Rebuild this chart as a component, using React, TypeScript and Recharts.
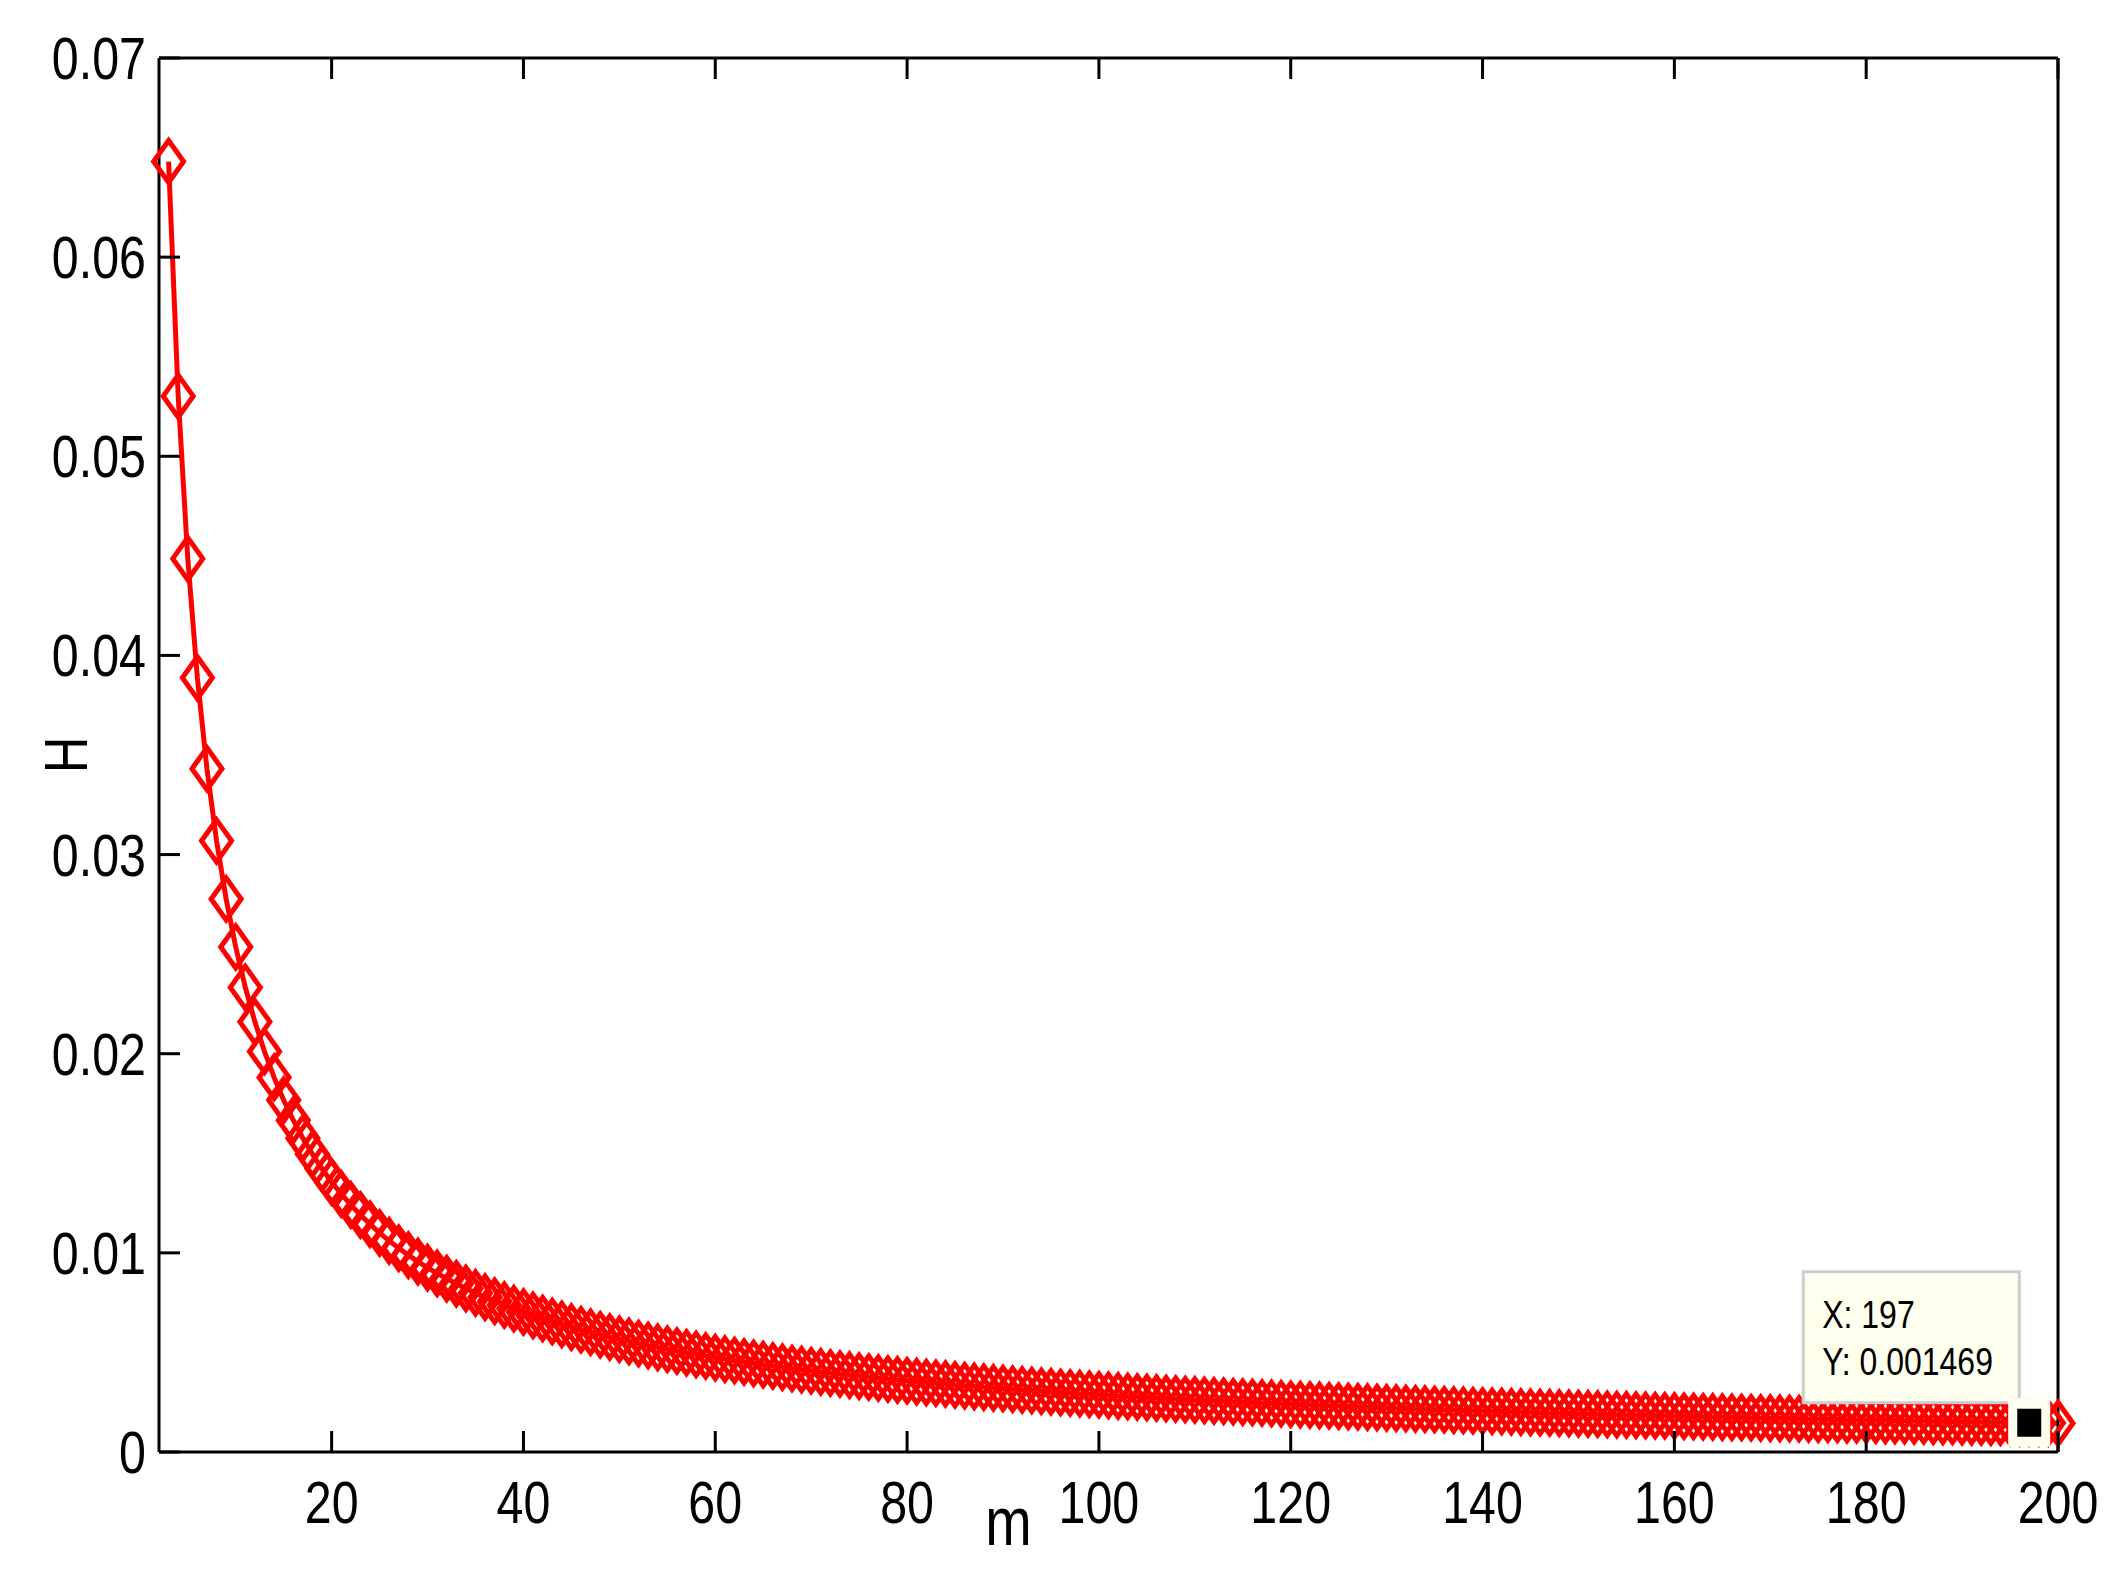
import React from 'react';
import { LineChart, Line, XAxis, YAxis, ReferenceDot, Label } from 'recharts';

// m values (x) and H values (y)
const mValues = [
  3, 4, 5, 6, 7, 8, 9, 10, 11, 12, 13, 14, 15, 16, 17, 18, 19, 20,
  21, 22, 23, 24, 25, 26, 27, 28, 29, 30, 31, 32, 33, 34, 35, 36, 37, 38, 39, 40,
  41, 42, 43, 44, 45, 46, 47, 48, 49, 50, 51, 52, 53, 54, 55, 56, 57, 58, 59, 60,
  61, 62, 63, 64, 65, 66, 67, 68, 69, 70, 71, 72, 73, 74, 75, 76, 77, 78, 79, 80,
  81, 82, 83, 84, 85, 86, 87, 88, 89, 90, 91, 92, 93, 94, 95, 96, 97, 98, 99, 100,
  101, 102, 103, 104, 105, 106, 107, 108, 109, 110, 111, 112, 113, 114, 115, 116, 117, 118, 119, 120,
  121, 122, 123, 124, 125, 126, 127, 128, 129, 130, 131, 132, 133, 134, 135, 136, 137, 138, 139, 140,
  141, 142, 143, 144, 145, 146, 147, 148, 149, 150, 151, 152, 153, 154, 155, 156, 157, 158, 159, 160,
  161, 162, 163, 164, 165, 166, 167, 168, 169, 170, 171, 172, 173, 174, 175, 176, 177, 178, 179, 180,
  181, 182, 183, 184, 185, 186, 187, 188, 189, 190, 191, 192, 193, 194, 195, 196, 197, 198, 199, 200,
];

const hValues = [
  0.0648, 0.05302, 0.04486, 0.03888, 0.03431, 0.03069, 0.02777, 0.02536, 0.02333, 0.0216,
  0.02011, 0.01881, 0.01767, 0.01666, 0.01576, 0.01495, 0.01422, 0.01356,
  0.01296, 0.01241, 0.0119, 0.01144, 0.011, 0.0106, 0.01023, 0.009885, 0.009561, 0.009257,
  0.008972, 0.008704, 0.008452, 0.008214, 0.007989, 0.007776, 0.007574, 0.007382, 0.0072, 0.007027,
  0.006861, 0.006703, 0.006553, 0.006409, 0.006271, 0.006139, 0.006012, 0.005891, 0.005774, 0.005662,
  0.005554, 0.00545, 0.00535, 0.005254, 0.005161, 0.005071, 0.004985, 0.004901, 0.00482, 0.004741,
  0.004666, 0.004592, 0.004521, 0.004452, 0.004385, 0.00432, 0.004257, 0.004196, 0.004136, 0.004078,
  0.004022, 0.003967, 0.003914, 0.003862, 0.003812, 0.003763, 0.003715, 0.003668, 0.003622, 0.003578,
  0.003535, 0.003492, 0.003451, 0.003411, 0.003371, 0.003333, 0.003295, 0.003258, 0.003222, 0.003187,
  0.003152, 0.003119, 0.003086, 0.003053, 0.003022, 0.002991, 0.00296, 0.002931, 0.002901, 0.002873,
  0.002845, 0.002817, 0.00279, 0.002764, 0.002738, 0.002712, 0.002688, 0.002663, 0.002639, 0.002615,
  0.002592, 0.002569, 0.002547, 0.002525, 0.002503, 0.002482, 0.002461, 0.00244, 0.00242, 0.0024,
  0.00238, 0.002361, 0.002342, 0.002324, 0.002305, 0.002287, 0.002269, 0.002252, 0.002234, 0.002218,
  0.002201, 0.002184, 0.002168, 0.002152, 0.002136, 0.002121, 0.002105, 0.00209, 0.002075, 0.002061,
  0.002046, 0.002032, 0.002018, 0.002004, 0.00199, 0.001977, 0.001964, 0.001951, 0.001938, 0.001925,
  0.001912, 0.0019, 0.001887, 0.001875, 0.001863, 0.001851, 0.00184, 0.001828, 0.001817, 0.001806,
  0.001794, 0.001783, 0.001773, 0.001762, 0.001751, 0.001741, 0.001731, 0.00172, 0.00171, 0.0017,
  0.00169, 0.001681, 0.001671, 0.001662, 0.001652, 0.001643, 0.001634, 0.001625, 0.001616, 0.001607,
  0.001598, 0.001589, 0.001581, 0.001572, 0.001564, 0.001555, 0.001547, 0.001539, 0.001531, 0.001523,
  0.001515, 0.001507, 0.001499, 0.001492, 0.001484, 0.001476, 0.001469, 0.001462, 0.001454, 0.001447,
];

const xTicks = [20, 40, 60, 80, 100, 120, 140, 160, 180, 200];
const yTicks = [0, 0.01, 0.02, 0.03, 0.04, 0.05, 0.06, 0.07];
const yTickLabels = ['0', '0.01', '0.02', '0.03', '0.04', '0.05', '0.06', '0.07'];

const tipX = 197;
const tipY = 0.001469;

const FONT = "'Liberation Sans', Arial, sans-serif";
const NARROW = 0.82;
const RED = '#ff0000';
const TICK_LEN = 21;

const data = mValues.map((m, i) => ({ m, h: hValues[i] }));

// narrow text, like the Helvetica Narrow look of the original
const NText = ({ x, y, size, anchor = 'start', children }: any) => (
  <text
    transform={`translate(${x} ${y}) scale(${NARROW} 1)`}
    x={0}
    y={0}
    textAnchor={anchor}
    fontSize={size}
    fontFamily={FONT}
    fill="#000"
  >
    {children}
  </text>
);

const BottomTick = (props: any) => {
  const { x, y, payload } = props;
  return (
    <g>
      <line x1={x} y1={y} x2={x} y2={y - TICK_LEN} stroke="#000" strokeWidth={3} />
      <NText x={x} y={y + 71} size={59} anchor="middle">{payload.value}</NText>
    </g>
  );
};

const TopTick = (props: any) => {
  const { x, y } = props;
  return <line x1={x} y1={y} x2={x} y2={y + TICK_LEN} stroke="#000" strokeWidth={3} />;
};

const LeftTick = (props: any) => {
  const { x, y, payload, index } = props;
  return (
    <g>
      <line x1={x} y1={y} x2={x + TICK_LEN} y2={y} stroke="#000" strokeWidth={3} />
      <NText x={x - 13} y={y + 21} size={59} anchor="end">
        {yTickLabels[yTicks.indexOf(payload.value)] ?? yTickLabels[index]}
      </NText>
    </g>
  );
};

const RightTick = (props: any) => {
  const { x, y } = props;
  return <line x1={x} y1={y} x2={x - TICK_LEN} y2={y} stroke="#000" strokeWidth={3} />;
};

const Diamond = (props: any) => {
  const { cx, cy, index } = props;
  if (cx == null || cy == null) return null;
  const w = 15;
  const h = 21;
  return (
    <polygon
      key={`d-${index}`}
      points={`${cx},${cy - h} ${cx + w},${cy} ${cx},${cy + h} ${cx - w},${cy}`}
      fill="none"
      stroke={RED}
      strokeWidth={5}
    />
  );
};

const DataTip = (props: any) => {
  const { cx, cy } = props;
  if (cx == null || cy == null) return null;
  return (
    <g>
      <rect x={cx - 226} y={cy - 151} width={216} height={131} fill="#ffffee" stroke="#cccccc" strokeWidth={3} />
      <NText x={cx - 207} y={cy - 95} size={39}>X: {tipX}</NText>
      <NText x={cx - 207} y={cy - 48} size={39}>Y: {tipY}</NText>
      <rect x={cx - 21} y={cy - 25} width={42} height={49} fill="#ffffee" />
      <rect x={cx - 12} y={cy - 14} width={24} height={28} fill="#000" />
    </g>
  );
};

const axisLine = { stroke: '#000', strokeWidth: 3 };

export default function App() {
  return (
    <div style={{ position: 'absolute', left: 0, top: 0, width: 2126, height: 1580, background: '#fff' }}>
      <LineChart width={2126} height={1580} data={data} margin={{ top: 0, right: 0, bottom: 0, left: 0 }}>
        <XAxis
          dataKey="m"
          type="number"
          domain={[2, 200]}
          ticks={xTicks}
          interval={0}
          height={128}
          tickSize={0}
          tickMargin={0}
          tickLine={false}
          axisLine={axisLine}
          tick={BottomTick}
        >
          <Label
            content={(p: any) => {
              const vb = p.viewBox;
              return (
                <NText x={vb.x + vb.width / 2 - 100} y={vb.y + 93} size={68} anchor="middle">m</NText>
              );
            }}
          />
        </XAxis>
        <XAxis
          xAxisId="top"
          orientation="top"
          dataKey="m"
          type="number"
          domain={[2, 200]}
          ticks={xTicks}
          interval={0}
          height={58}
          tickSize={0}
          tickMargin={0}
          tickLine={false}
          axisLine={axisLine}
          tick={TopTick}
        />
        <YAxis
          type="number"
          domain={[0, 0.07]}
          ticks={yTicks}
          interval={0}
          width={159}
          tickSize={0}
          tickMargin={0}
          tickLine={false}
          axisLine={axisLine}
          tick={LeftTick}
        >
          <Label
            content={(p: any) => {
              const vb = p.viewBox;
              const cy = vb.y + vb.height / 2;
              return (
                <text
                  transform={`translate(87 ${cy}) rotate(-90) scale(${NARROW} 1)`}
                  x={0}
                  y={0}
                  textAnchor="middle"
                  fontSize={62}
                  fontFamily={FONT}
                  fill="#000"
                >
                  H
                </text>
              );
            }}
          />
        </YAxis>
        <YAxis
          yAxisId="right"
          orientation="right"
          type="number"
          domain={[0, 0.07]}
          ticks={yTicks}
          interval={0}
          width={68}
          tickSize={0}
          tickMargin={0}
          tickLine={false}
          axisLine={axisLine}
          tick={RightTick}
        />
        <Line
          dataKey="h"
          type="linear"
          stroke={RED}
          strokeWidth={5}
          dot={Diamond}
          activeDot={false}
          isAnimationActive={false}
        />
        <ReferenceDot x={tipX} y={tipY} r={1} shape={DataTip} ifOverflow="visible" />
      </LineChart>
    </div>
  );
}
